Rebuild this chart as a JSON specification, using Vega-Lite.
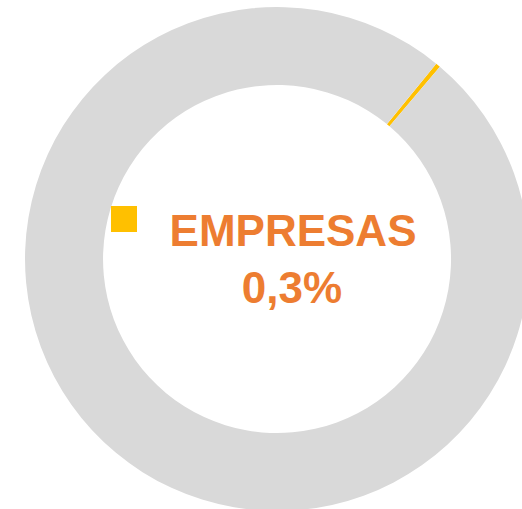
{
  "$schema": "https://vega.github.io/schema/vega-lite/v6.json",
  "width": 504,
  "height": 504,
  "autosize": "none",
  "padding": {"left": 25, "top": 7, "right": 0, "bottom": 0},
  "background": "white",
  "view": {"stroke": null},
  "data": {
    "values": [
      {"serie": "EMPRESAS", "pct": 0.3, "label": "0,3%", "ord": 1},
      {"serie": "Resto", "pct": 99.7, "label": "", "ord": 2}
    ]
  },
  "layer": [
    {
      "mark": {"type": "arc", "outerRadius": 252, "innerRadius": 174},
      "encoding": {
        "theta": {"field": "pct", "type": "quantitative", "stack": true, "scale": {"range": [0.684, 6.967]}},
        "order": {"field": "ord", "type": "quantitative"},
        "color": {
          "field": "serie",
          "type": "nominal",
          "scale": {"domain": ["EMPRESAS", "Resto"], "range": ["#FFC000", "#D9D9D9"]},
          "legend": {
            "values": ["EMPRESAS"],
            "orient": "none",
            "legendX": 86,
            "legendY": 199,
            "title": null,
            "symbolType": "square",
            "symbolSize": 676,
            "symbolStrokeWidth": 0,
            "labelExpr": "''",
            "padding": 0
          }
        }
      }
    },
    {
      "transform": [{"filter": "datum.serie === 'EMPRESAS'"}],
      "mark": {"type": "text", "font": "Liberation Sans", "fontWeight": "bold", "fontSize": 44, "color": "#ED7D31", "baseline": "alphabetic", "align": "center", "dx": 16, "dy": -13},
      "encoding": {"text": {"field": "serie", "type": "nominal"}}
    },
    {
      "transform": [{"filter": "datum.serie === 'EMPRESAS'"}],
      "mark": {"type": "text", "font": "Liberation Sans", "fontWeight": "bold", "fontSize": 44, "color": "#ED7D31", "baseline": "alphabetic", "align": "center", "dx": 15, "dy": 44},
      "encoding": {"text": {"field": "label", "type": "nominal"}}
    }
  ]
}
